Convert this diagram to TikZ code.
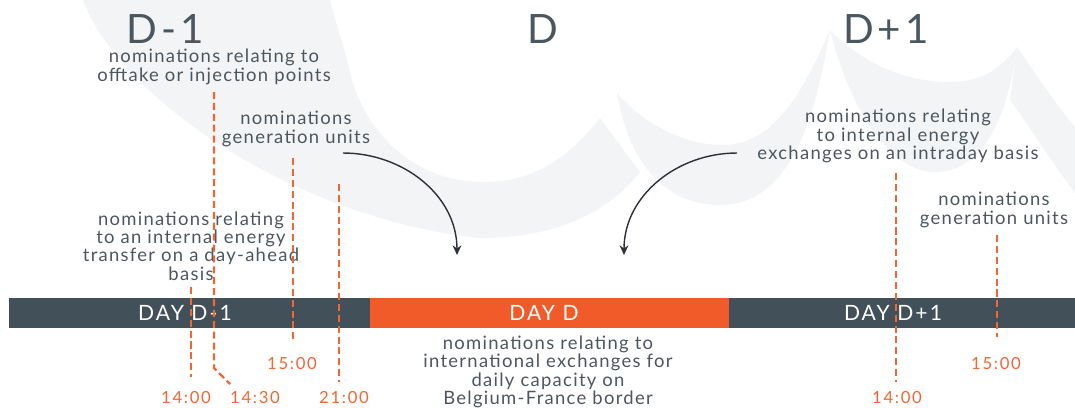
\documentclass[tikz,border=0pt]{standalone}
\usepackage{fontspec}
\setmainfont{Lato}[LetterSpace=10]
\newfontfamily\notefont{Lato}[LetterSpace=7]
\usetikzlibrary{arrows.meta}

\definecolor{slate}{HTML}{425059}
\definecolor{slatetext}{HTML}{4B5760}
\definecolor{flame}{HTML}{F15A29}
\definecolor{flamelight}{HTML}{F26634}
\definecolor{swoosh}{HTML}{F3F4F6}
\definecolor{pointer}{HTML}{2B3136}

\tikzset{
  title/.style={text=slatetext, font=\fontsize{23}{23}\selectfont, inner sep=0pt, anchor=base},
  note/.style={text=slatetext, align=center, font=\notefont\fontsize{10.5}{10.4}\selectfont, inner sep=0pt},
  hour/.style={text=flamelight, font=\fontsize{9.5}{9.5}\selectfont, inner sep=0pt, anchor=base},
  daytext/.style={text=white, font=\fontsize{12}{12}\selectfont, inner sep=0pt},
  deadline/.style={draw=flamelight, line width=1.3pt, dash pattern=on 4pt off 2.2pt},
  pointerarrow/.style={draw=pointer, line width=0.8pt, -{Stealth[length=5.5pt,width=5pt]}}
}

\begin{document}
\begin{tikzpicture}[x=0.02cm,y=0.02cm]
  \useasboundingbox (0,0) rectangle (1075,-407);

  % background swooshes
  \fill[swoosh] (83,0) .. controls (120,-100) and (300,-220) .. (480,-238)
    .. controls (560,-238) and (610,-210) .. (640,-172) -- (600,-118)
    .. controls (560,-170) and (520,-182) .. (483,-182)
    .. controls (420,-182) and (370,-140) .. (352,-80)
    .. controls (345,-50) and (335,-20) .. (330,0) -- cycle;
  \fill[swoosh] (617,-93) .. controls (630,-170) and (670,-205) .. (720,-205)
    .. controls (790,-205) and (815,-120) .. (830,-30)
    .. controls (800,-100) and (770,-145) .. (723,-145)
    .. controls (680,-145) and (640,-120) .. (617,-93) -- cycle;
  \fill[swoosh] (830,-30) .. controls (850,-110) and (890,-172) .. (935,-172)
    .. controls (990,-172) and (1010,-100) .. (1017,-47)
    .. controls (1000,-70) and (980,-82) .. (950,-82)
    .. controls (900,-82) and (860,-60) .. (830,-30) -- cycle;
  \fill[swoosh] (1017,-47) .. controls (1040,-80) and (1060,-110) .. (1075,-127)
    -- (1075,-193) .. controls (1050,-160) and (1025,-120) .. (1010,-100) -- cycle;

  % timeline
  \fill[slate] (9,-298) rectangle (370,-328);
  \fill[flame] (370,-298) rectangle (729,-328);
  \fill[slate] (729,-298) rectangle (1075,-328);
  \node[daytext] (dayprev) at (185,-313) {DAY D-1};
  \node[daytext] (dayzero) at (544,-313) {DAY D};
  \node[daytext] (daynext) at (893,-313) {DAY D+1};

  % headings
  \node[title] (headprev) at (165,-43) {D-1};
  \node[title] (headzero) at (543,-43) {D};
  \node[title] (headnext) at (886,-43) {D+1};

  % notes
  \node[note] (offtake) at (214,-67) {nominations relating to\\offtake or injection points};
  \node[note] (genprev) at (296,-129) {nominations\\generation units};
  \node[note] (transfer) at (191,-246) {nominations relating\\to an internal energy\\transfer on a day-ahead\\basis};
  \node[note] (international) at (548,-372) {nominations relating to\\international exchanges for\\daily capacity on\\Belgium-France border};
  \node[note] (intraday) at (898,-136) {nominations relating\\to internal energy\\exchanges on an intraday basis};
  \node[note] (gennext) at (994,-210) {nominations\\generation units};

  % hours
  \node[hour] (h1400) at (186,-403) {14:00};
  \node[hour] (h1430) at (255,-403) {14:30};
  \node[hour] (h2100) at (344,-403) {21:00};
  \node[hour] (h1500) at (292,-369) {15:00};
  \node[hour] (n1400) at (897,-403) {14:00};
  \node[hour] (n1500) at (996,-369) {15:00};

  % deadlines
  \draw[deadline] (191,-287) -- (191,-377);
  \draw[deadline] (214,-92) -- (214,-368) -- (230,-384);
  \draw[deadline] (293,-158) -- (293,-342);
  \draw[deadline] (339,-184) -- (339,-382);
  \draw[deadline] (896,-173) -- (896,-382);
  \draw[deadline] (997,-235) -- (997,-337);

  % pointers
  \coordinate (dropprev) at (457,-255);
  \coordinate (dropnext) at (624,-255);
  \draw[pointerarrow] (343,-153) to[out=0,in=90] (dropprev);
  \draw[pointerarrow] (737,-153) to[out=180,in=90] (dropnext);
\end{tikzpicture}
\end{document}
